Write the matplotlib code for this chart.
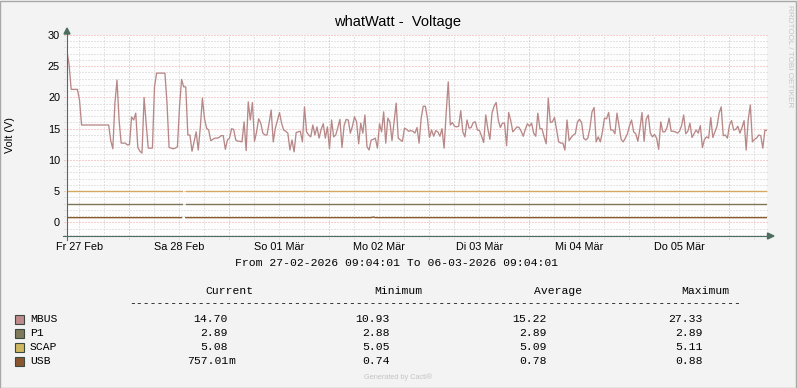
import numpy as np
import matplotlib.pyplot as plt
from matplotlib.lines import Line2D
from matplotlib.patches import Polygon, Rectangle

# --- DATA ---
W, H = 797, 388
STEP_H = 0.5  # hours between samples

mbus_volts = [
    27.3, 25.3, 21.3, 21.3, 21.3, 21.3, 19.6, 15.6,
    15.6, 15.6, 15.6, 15.6, 15.6, 15.6, 15.6, 15.6, 15.6, 15.6, 15.6, 15.6, 15.6,
    13.1, 11.8, 19.1, 22.8, 16.4, 12.7, 12.7, 12.7, 12.4, 12.5,
    16.9, 16.4, 17.5, 12.0, 11.4, 11.1, 20.0, 15.8, 11.9, 11.9,
    11.9, 21.7, 23.9, 23.9, 23.9, 23.9, 23.9, 19.1, 12.0, 11.9,
    11.8, 11.9, 12.1, 18.5, 22.9, 21.7, 21.7, 14.0, 14.0, 11.4,
    12.9, 14.5, 11.6, 15.3, 19.9, 16.6, 15.1, 14.8, 13.1, 13.3,
    13.5, 13.5, 13.6, 13.9, 13.9, 11.7, 13.2, 13.5, 15.0, 14.9,
    13.2, 13.0, 13.0, 12.9, 16.1, 11.5, 19.3, 16.4, 19.2, 13.0,
    14.5, 16.6, 15.9, 14.3, 14.0, 14.0, 15.9, 18.0, 12.9, 15.1,
    16.3, 17.6, 15.9, 14.8, 14.6, 14.3, 11.6, 13.2, 11.3, 14.4,
    14.5, 14.6, 12.9, 18.5, 14.5, 14.0, 13.7, 15.6, 14.0, 15.3,
    13.5, 14.9, 15.8, 13.5, 15.3, 11.8, 16.4, 13.7, 14.0, 15.2,
    16.5, 12.0, 15.5, 16.5, 16.4, 14.3, 15.4, 16.9, 16.1, 12.6,
    15.9, 14.3, 17.2, 12.1, 11.6, 13.2, 13.3, 13.5, 11.9, 15.8,
    14.5, 17.7, 12.7, 16.7, 16.1, 13.1, 16.1, 19.1, 13.5, 13.2,
    13.0, 15.1, 14.9, 14.6, 14.7, 14.6, 14.3, 15.2, 12.7, 16.7,
    18.6, 18.6, 16.7, 13.6, 14.8, 13.8, 14.7, 14.5, 13.8, 15.0,
    11.9, 17.5, 22.5, 15.6, 16.0, 15.4, 15.3, 15.4, 17.9, 14.5,
    13.7, 16.4, 15.1, 15.2, 16.0, 16.1, 14.8, 14.7, 13.8, 12.8,
    17.2, 15.0, 13.3, 17.5, 18.6, 19.2, 16.4, 15.2, 15.9, 15.9,
    12.3, 17.6, 16.3, 14.5, 14.9, 15.3, 15.2, 14.6, 13.8, 14.9,
    15.8, 15.4, 15.9, 14.3, 13.8, 17.5, 15.0, 15.0, 13.7, 12.6,
    19.9, 16.0, 16.1, 16.8, 14.9, 12.9, 12.7, 12.7, 11.6, 16.4,
    13.1, 13.6, 14.0, 14.2, 16.1, 16.5, 16.0, 13.5, 13.2, 13.5,
    15.1, 17.7, 18.4, 12.9, 13.7, 12.9, 14.5, 16.7, 16.6, 17.6,
    14.8, 14.8, 14.2, 17.5, 15.4, 13.3, 12.9, 13.5, 14.2, 15.5,
    16.4, 14.5, 14.2, 13.0, 15.0, 17.6, 13.0, 16.5, 17.2, 14.3,
    13.7, 14.1, 13.5, 11.7, 16.1, 14.5, 14.5, 15.2, 16.7, 14.6,
    14.6, 14.5, 14.3, 14.6, 15.5, 17.2, 14.2, 14.6, 15.9, 13.6,
    14.2, 14.8, 14.3, 15.5, 12.0, 13.3, 13.7, 13.5, 16.8, 13.6,
    14.5, 15.4, 17.5, 18.5, 13.9, 14.0, 13.5, 15.6, 16.3, 14.8,
    14.9, 15.4, 14.3, 15.2, 16.3, 11.6, 16.5, 18.8, 12.9, 13.3,
    13.5, 14.0, 13.9, 11.9, 14.8, 14.7,
]
N = len(mbus_volts)

# flat series, one missing sample near Sa 28 Feb, small USB bump on Mo 02 Mär
GAP_SAMPLE = 56
p1_volts = [2.89] * N
scap_volts = [5.08] * N
usb_volts = [0.78] * N
usb_volts[147] = 0.88
for s in (p1_volts, scap_volts, usb_volts):
    s[GAP_SAMPLE] = np.nan

series_names = ['MBUS', 'P1', 'SCAP', 'USB']
line_colors = ['#b88888', '#7e7459', '#d4a860', '#8b5a2b']
legend_colors = ['#c08a8a', '#807a5c', '#d0b860', '#8b5530']
stat_current = [14.70, 2.89, 5.08, 0.75701]
stat_minimum = [10.93, 2.88, 5.05, 0.74]
stat_average = [15.22, 2.89, 5.09, 0.78]
stat_maximum = [27.33, 2.89, 5.11, 0.88]

day_labels = ['Fr 27 Feb', 'Sa 28 Feb', 'So 01 Mär', 'Mo 02 Mär',
              'Di 03 Mär', 'Mi 04 Mär', 'Do 05 Mär']
FIRST_MIDNIGHT_H = 14 + 56 / 60 - 1 / 3600  # start 09:04:01
SPAN_H = 168
Y_MIN, Y_MAX = -2.16, 30

# --- FIGURE ---
plt.rcParams['font.family'] = ['Liberation Sans', 'DejaVu Sans']
fig = plt.figure(figsize=(W / 100, H / 100), dpi=100, facecolor='#f3f3f3')


def fx(px):
    return px / W


def fy(py):
    return 1 - py / H


ax = fig.add_axes([fx(67), fy(236), 700 / W, 201 / H])
ax.set_facecolor('#fdfdfd')
ax.set_xlim(0, SPAN_H)
ax.set_ylim(Y_MIN, Y_MAX)
for sp in ax.spines.values():
    sp.set_visible(False)

# grid
dot = (0, (1, 2))
ext_x = 3 * SPAN_H / 700
ext_y = 3 * (Y_MAX - Y_MIN) / 201
for v in range(-2, 31):
    major = v % 5 == 0
    ax.hlines(v, -ext_x, SPAN_H, colors='#f0a0a0' if major else '#cccccc',
              linestyles=dot, linewidth=0.72, clip_on=False, zorder=1)
six_h = np.arange(FIRST_MIDNIGHT_H - 12, SPAN_H, 6)
for h in six_h:
    k = (h - FIRST_MIDNIGHT_H) / 24
    major = abs(k - round(k)) < 1e-6
    ax.vlines(h, Y_MIN - ext_y, Y_MAX, colors='#f0a0a0' if major else '#cccccc',
              linestyles=dot, linewidth=0.72, clip_on=False, zorder=1)

# data lines
hours = np.arange(N) * STEP_H
ax.plot(hours, mbus_volts, color=line_colors[0], linewidth=0.95, zorder=3)
ax.plot(hours, p1_volts, color=line_colors[1], linewidth=1.0, zorder=3)
ax.plot(hours, scap_volts, color=line_colors[2], linewidth=1.0, zorder=3)
ax.plot(hours, usb_volts, color=line_colors[3], linewidth=1.0, zorder=3)

# ticks
ax.set_yticks(range(0, 31, 5))
ax.set_yticklabels([str(v) for v in range(0, 31, 5)], fontsize=7.8)
ax.set_xticks([FIRST_MIDNIGHT_H - 12 + 24 * k for k in range(len(day_labels))])
ax.set_xticklabels(day_labels, fontsize=7.8)
ax.tick_params(axis='y', length=0, pad=5)
ax.tick_params(axis='x', length=0, pad=4)

# axes with arrows
axis_col = '#4d6e5f'
fig.add_artist(Line2D([fx(63), fx(768)], [fy(236), fy(236)], color=axis_col, lw=0.8))
fig.add_artist(Line2D([fx(67), fx(67)], [fy(240), fy(33)], color=axis_col, lw=0.8))
fig.add_artist(Polygon([[fx(774), fy(236)], [fx(767.5), fy(233)], [fx(767.5), fy(239)]],
                       closed=True, color=axis_col))
fig.add_artist(Polygon([[fx(67), fy(28)], [fx(64), fy(34)], [fx(70), fy(34)]],
                       closed=True, color=axis_col))

# titles
fig.text(fx(398), fy(22), 'whatWatt -  Voltage', fontsize=10.5, ha='center', va='center')
fig.text(fx(10), fy(135), 'Volt (V)', fontsize=7.8, rotation=90, ha='center', va='center')
fig.text(fx(789), fy(5), 'RRDTOOL / TOBI OETIKER', fontsize=5.9, rotation=270,
         ha='center', va='top', color='#c4c4c4')
fig.text(fx(397), fy(263), 'From 27-02-2026 09:04:01 To 06-03-2026 09:04:01',
         family='Liberation Mono', fontsize=8.2, ha='center', va='center')

# legend table
mono = dict(family='Liberation Mono', fontsize=8.2, va='center')
hdr_y = 291
for label, cx in [('Current', 229), ('Minimum', 398), ('Average', 558), ('Maximum', 705)]:
    fig.text(fx(cx), fy(hdr_y), label, ha='center', **mono)
fig.text(fx(435.5), fy(303), '-' * 89, ha='center', **mono)

row_y = [319, 333, 347, 361]


def fmt_current(v):
    if abs(v) < 1:
        return f'{v * 1000:.2f}', 'm'
    return f'{v:.2f}', ''


for i, name in enumerate(series_names):
    y = row_y[i]
    fig.add_artist(Rectangle((fx(15), fy(y + 4.5)), 9 / W, 9 / H,
                             facecolor=legend_colors[i], edgecolor='#3a4a40', lw=0.8))
    fig.text(fx(30), fy(y), name, ha='left', **mono)
    num, suffix = fmt_current(stat_current[i])
    fig.text(fx(228), fy(y), num, ha='right', **mono)
    if suffix:
        fig.text(fx(228), fy(y), suffix, ha='left', **mono)
    fig.text(fx(390), fy(y), f'{stat_minimum[i]:.2f}', ha='right', **mono)
    fig.text(fx(547), fy(y), f'{stat_average[i]:.2f}', ha='right', **mono)
    fig.text(fx(703), fy(y), f'{stat_maximum[i]:.2f}', ha='right', **mono)

fig.text(fx(398), fy(377), 'Generated by Cacti®', fontsize=5.3, ha='center', va='center',
         color='#c4c4c4')

# frame
fig.add_artist(Rectangle((0.0005, 0.001), 0.998, 0.997, fill=False,
                         edgecolor='#a8a8a8', lw=1.0, transform=fig.transFigure))

fig.savefig('out.png', dpi=100, facecolor=fig.get_facecolor())
